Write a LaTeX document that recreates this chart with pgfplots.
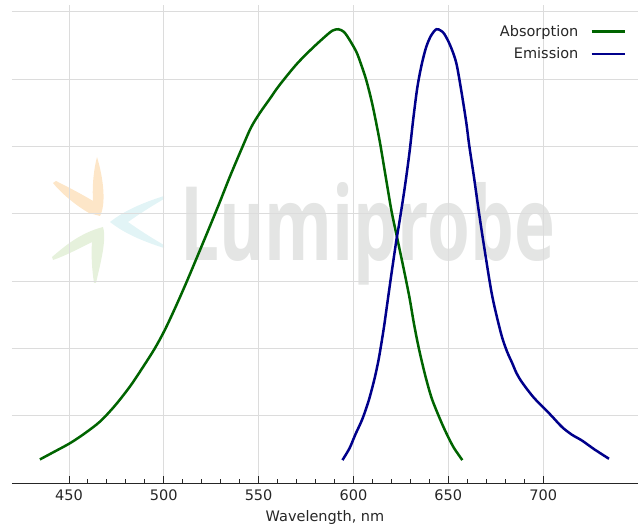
\documentclass[border=0pt]{standalone}
\usepackage{pgfplots}
\pgfplotsset{compat=1.18}
\usepackage{fontspec}
\setmainfont{DejaVu Sans}
\newfontfamily\wmfont{Open Sans}
\definecolor{absgreen}{HTML}{006400}
\definecolor{emblue}{HTML}{00008B}
\definecolor{gridgray}{HTML}{DCDCDC}
\definecolor{wmgray}{HTML}{E4E5E4}
\definecolor{wmorange}{HTML}{FDE6C8}
\definecolor{wmcyan}{HTML}{E2F4F6}
\definecolor{wmgreen}{HTML}{E6F1DC}
\pgfplotstableread{
x y
434.7 0.35
442 0.46
450.5 0.59
458 0.73
466.3 0.91
474 1.14
482.1 1.43
489 1.72
495.3 2.00
500.5 2.27
506 2.60
512.1 2.99
520 3.52
525.3 3.88
529.5 4.17
535 4.56
541.6 5.00
546 5.28
550.5 5.49
556 5.71
561 5.91
570 6.22
578.4 6.46
585.8 6.65
589 6.72
592 6.74
595 6.70
598 6.58
601.6 6.40
604 6.22
606.8 5.98
610 5.62
613.7 5.10
617 4.55
620 4.05
623.2 3.62
626.5 3.18
629.5 2.76
632 2.35
634.7 1.97
638 1.58
641 1.28
643.7 1.08
647 0.86
650 0.68
653 0.52
657.4 0.34
}\absdata
\pgfplotstableread{
x y
594.2 0.34
598 0.52
601 0.72
604.7 0.95
608 1.22
610.5 1.48
612 1.66
613.7 1.90
616 2.30
617.9 2.68
620 3.10
622.6 3.60
624.2 3.87
627 4.38
629.5 4.90
631.5 5.40
633.7 5.88
636 6.22
638.4 6.48
641 6.65
643.7 6.74
646 6.72
647.9 6.67
651 6.50
654.2 6.24
657 5.80
659.5 5.35
661 5.02
663.5 4.55
666 4.05
668.5 3.58
672.6 2.86
675.5 2.48
678.4 2.16
681 1.95
683.7 1.78
686 1.63
689 1.49
695 1.27
701.6 1.08
705 0.98
710 0.83
715 0.72
720.5 0.63
727 0.50
734.7 0.36
}\emdata
\begin{document}
\begin{tikzpicture}
\path[use as bounding box] (-12pt,-42pt) rectangle (629pt,483pt);
% watermark (image pixel coordinates)
\begin{scope}[x=1pt,y=-1pt,shift={(-12pt,483pt)}]
  \fill[wmorange] (97,157) .. controls (104,180) and (106,205) .. (100,216)
     -- (89,213) .. controls (75,205) and (60,192) .. (53,183)
     -- (56,181) .. controls (70,188) and (85,196) .. (93,201)
     .. controls (92,185) and (94,168) .. cycle;
  \fill[wmcyan] (110,222) .. controls (125,210) and (145,202) .. (164,196)
     -- (164,199) .. controls (150,207) and (138,215) .. (128,222)
     .. controls (138,229) and (150,237) .. (164,245)
     -- (164,248) .. controls (145,242) and (125,234) .. cycle;
  \fill[wmgreen] (103,227) .. controls (107,240) and (100,265) .. (96,283)
     -- (94,283) .. controls (92,270) and (91,255) .. (92,242)
     .. controls (80,248) and (65,256) .. (53,260)
     -- (52,257) .. controls (65,246) and (80,233) .. cycle;
  \node[anchor=base west, inner sep=0pt, text=wmgray] at (180,260)
     {\resizebox{375pt}{78pt}{\wmfont\fontseries{sb}\selectfont Lumiprobe}};
\end{scope}
\begin{axis}[
  scale only axis,
  width=626pt, height=478pt,
  xmin=420, xmax=750,
  ymin=0, ymax=7.10,
  axis x line*=bottom,
  axis y line*=left,
  y axis line style={draw=none},
  x axis line style={line width=0.8pt, black!85},
  xtick={450,500,550,600,650,700},
  minor x tick num=4,
  ytick={1,2,3,4,5,6,7},
  yticklabels={},
  ytick style={draw=none},
  tick align=inside,
  major tick length=7pt,
  minor tick length=3.5pt,
  xtick style={black!85, line width=0.8pt},
  grid=major,
  major grid style={gridgray, line width=0.8pt},
  tick label style={font=\fontsize{14.5}{17}\selectfont, text=black!85},
  xticklabel style={yshift=-3pt},
  /pgf/number format/assume math mode=true,
  xlabel={Wavelength, nm},
  xlabel style={font=\fontsize{14.5}{17}\selectfont, text=black!85, yshift=-3pt},
  legend plot pos=right,
  legend cell align=right,
  legend image code/.code={\draw[#1, line width=2.5pt] (0pt,0pt) -- (33pt,0pt);},
  legend style={draw=none, fill=none, at={(0.981,0.962)}, anchor=north east,
    font=\fontsize{14.5}{17}\selectfont, text=black!85, inner sep=0pt,
    row sep=6pt},
]
\addplot[absgreen, line width=2.5pt, smooth, tension=0.5] table[x=x,y=y] {\absdata};
\addlegendentry{Absorption\rule{10pt}{0pt}}
\addplot[emblue, line width=2.5pt, smooth, tension=0.5] table[x=x,y=y] {\emdata};
\addlegendentry{Emission\rule{10pt}{0pt}}
\end{axis}
\end{tikzpicture}
\end{document}
